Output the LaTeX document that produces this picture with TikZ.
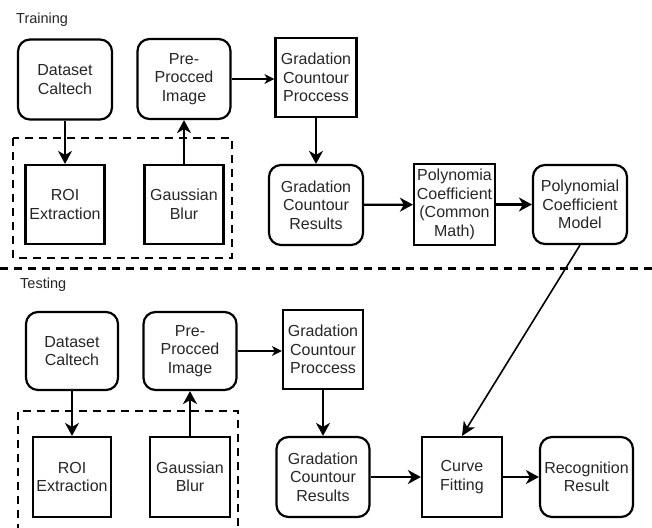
\documentclass[tikz,border=0pt]{standalone}
\usepackage{fontspec}
\setmainfont{Liberation Sans}
\usetikzlibrary{arrows.meta}

\begin{document}
\begin{tikzpicture}[x=1pt,y=-1pt]
\tikzstyle{every node}+=[inner sep=0pt, text=black!85, align=center, font=\fontsize{16}{18.5}\selectfont]
\tikzstyle{rbox}=[draw=black, line width=2.2pt, rounded corners=12pt, minimum height=80pt]
\tikzstyle{sbox}=[draw=black, line width=2.2pt, minimum height=80pt]
\tikzstyle{flow}=[line width=2.2pt, -{Stealth[length=13pt,width=14pt,inset=4pt]}]
\tikzstyle{thinflow}=[line width=1.1pt, -{Stealth[length=10pt,width=10pt,inset=3pt]}]
\tikzstyle{grp}=[line width=2.6pt, dash pattern=on 8pt off 6pt]
\tikzstyle{sep}=[line width=3pt, dash pattern=on 8pt off 6pt]
\tikzstyle{title}=[anchor=west, font=\fontsize{14.5}{17}\selectfont]
\useasboundingbox (0,0) rectangle (652,527);
% training
\node[title] (trainlbl) at (16,20) {Training};
\node[rbox, minimum width=94pt] (dsA) at (65,79.5) {Dataset\\Caltech};
\node[rbox, minimum width=93pt] (preA) at (184,79) {Pre-\\Procced\\Image};
\node[sbox, minimum width=81pt, minimum height=79pt] (gcpA) at (316,77.5) {Gradation\\Countour\\Proccess};
\node[sbox, minimum width=79pt, minimum height=79pt] (roiA) at (65,204.5) {ROI\\Extraction};
\node[sbox, minimum width=79pt, minimum height=79pt] (gbA) at (184,204.5) {Gaussian\\Blur};
\node[rbox, minimum width=94pt] (gcrA) at (316,205) {Gradation\\Countour\\Results};
\node[sbox, minimum width=81pt, minimum height=81pt] (pcA) at (454.5,204.5) {Polynomia\\Coefficient\\(Common\\Math)};
\node[rbox, minimum width=94pt, minimum height=79pt] (pmA) at (580,204.5) {Polynomial\\Coefficient\\Model};
\draw[grp] (13,138) rectangle (232,258);
\draw[flow] (dsA) -- (roiA);
\draw[flow] (gbA) -- (preA);
\draw[thinflow] (preA.east) -- (gcpA.west |- preA.east);
\draw[flow] (gcpA) -- (gcrA);
\draw[flow] (gcrA) -- (pcA);
\draw[flow] (pcA) -- (pmA);
\draw[sep] (0,268) -- (652,268);
% testing
\node[title] (testlbl) at (20,285) {Testing};
\node[rbox, minimum width=92pt, minimum height=78pt] (dsB) at (72,351) {Dataset\\Caltech};
\node[rbox, minimum width=93pt, minimum height=78pt] (preB) at (190,351) {Pre-\\Procced\\Image};
\node[sbox, minimum width=80pt, minimum height=79pt] (gcpB) at (323,349.5) {Gradation\\Countour\\Proccess};
\node[sbox, minimum width=78pt] (roiB) at (72,477) {ROI\\Extraction};
\node[sbox, minimum width=80pt] (gbB) at (190,477) {Gaussian\\Blur};
\node[rbox, minimum width=93pt] (gcrB) at (323,477) {Gradation\\Countour\\Results};
\node[sbox, minimum width=80pt] (cfB) at (462,477) {Curve\\Fitting};
\node[rbox, minimum width=93pt] (rrB) at (586.5,477) {Recognition\\Result};
\draw[grp] (18,532) -- (18,411) -- (238,411) -- (238,532);
\draw[flow] (dsB) -- (roiB);
\draw[flow] (gbB) -- (preB);
\draw[thinflow] (preB.east) -- (gcpB.west |- preB.east);
\draw[flow] (gcpB) -- (gcrB);
\draw[flow] (gcrB) -- (cfB);
\draw[flow] (cfB) -- (rrB);
\draw[line width=1.6pt, -{Stealth[length=14pt,width=13pt,inset=4pt]}] (pmA.south) -- (cfB.north);
\end{tikzpicture}
\end{document}
